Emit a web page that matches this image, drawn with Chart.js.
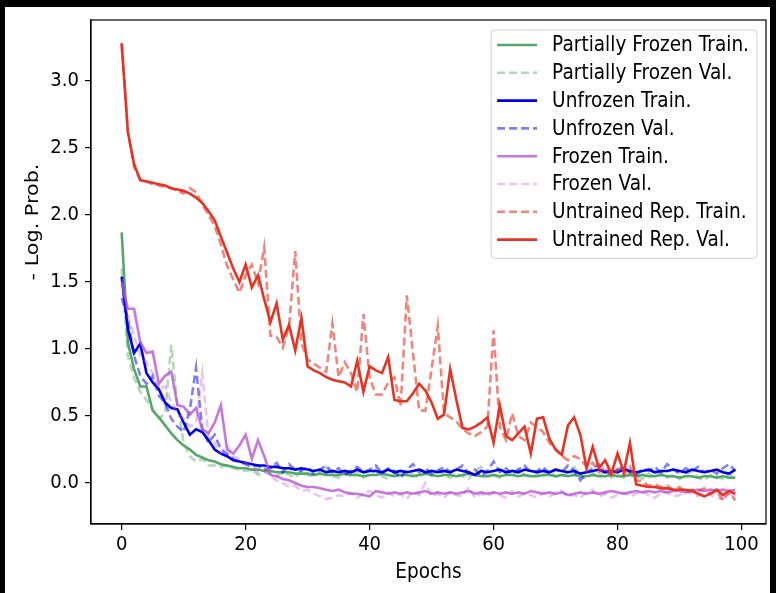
<!DOCTYPE html>
<html>
<head>
<meta charset="utf-8">
<script src="https://cdn.jsdelivr.net/npm/chart.js@4.4.1/dist/chart.umd.min.js"></script>
<style>
  html, body { margin: 0; padding: 0; background: #000; }
  #wrap { position: absolute; left: 5px; top: 7px; width: 765px; height: 586px; background: #fff; }
  canvas { display: block; }
</style>
</head>
<body>
<div id="wrap"><canvas id="c" width="765" height="586"></canvas></div>
<script>
const epochs = Array.from({length: 100}, (_, i) => i);
const xTickValues = [0, 20, 40, 60, 80, 100];
const yTickValues = [0.0, 0.5, 1.0, 1.5, 2.0, 2.5, 3.0];
const seriesLabels = ['Partially Frozen Train.', 'Partially Frozen Val.', 'Unfrozen Train.', 'Unfrozen Val.',
  'Frozen Train.', 'Frozen Val.', 'Untrained Rep. Train.', 'Untrained Rep. Val.'];

const partialTrain = [1.87,1.05,0.85,0.72,0.72,0.54,0.49,0.43,0.37,0.32,
 0.28,0.25,0.21,0.19,0.17,0.16,0.14,0.13,0.12,0.11,
 0.11,0.10,0.10,0.09,0.09,0.08,0.08,0.08,0.07,0.07,
 0.07,0.06,0.07,0.06,0.06,0.06,0.07,0.06,0.06,0.05,
 0.06,0.06,0.07,0.06,0.05,0.06,0.06,0.05,0.06,0.07,
 0.06,0.05,0.06,0.06,0.05,0.06,0.07,0.06,0.05,0.05,
 0.06,0.05,0.06,0.06,0.05,0.06,0.05,0.05,0.06,0.06,
 0.05,0.06,0.05,0.06,0.05,0.05,0.06,0.05,0.05,0.06,
 0.05,0.05,0.06,0.05,0.06,0.05,0.05,0.06,0.05,0.05,
 0.04,0.05,0.05,0.04,0.05,0.05,0.04,0.05,0.04,0.04];

const partialVal = [1.60,0.95,0.78,0.68,0.62,0.55,0.48,0.52,1.03,0.58,
 0.30,0.20,0.16,0.18,0.13,0.13,0.12,0.13,0.11,0.10,
 0.09,0.10,0.06,0.08,0.07,0.05,0.08,0.06,0.04,0.09,
 0.06,0.05,0.08,0.12,0.05,0.04,0.07,0.05,0.09,0.04,
 0.06,0.10,0.05,0.03,0.07,0.05,0.09,0.06,0.04,0.08,
 0.05,0.11,0.06,0.04,0.07,0.05,0.03,0.09,0.12,0.05,
 0.06,0.04,0.08,0.05,0.10,0.06,0.04,0.07,0.05,0.09,
 0.05,0.04,0.08,0.12,0.05,0.03,0.07,0.05,0.09,0.04,
 0.06,0.04,0.08,0.05,0.03,0.07,0.05,0.09,0.04,0.06,
 0.03,0.06,0.09,0.04,0.02,0.06,0.05,0.03,0.07,0.04];

const unfrozenTrain = [1.54,1.15,0.97,1.04,0.82,0.75,0.70,0.60,0.56,0.55,
 0.45,0.36,0.40,0.38,0.32,0.25,0.22,0.20,0.17,0.16,
 0.15,0.14,0.13,0.13,0.12,0.12,0.11,0.11,0.10,0.11,
 0.10,0.09,0.10,0.08,0.09,0.08,0.09,0.08,0.10,0.08,
 0.09,0.09,0.08,0.10,0.08,0.09,0.08,0.09,0.10,0.08,
 0.09,0.08,0.09,0.08,0.10,0.09,0.08,0.06,0.09,0.08,
 0.09,0.10,0.08,0.09,0.08,0.10,0.09,0.08,0.09,0.08,
 0.10,0.09,0.08,0.09,0.07,0.08,0.09,0.10,0.08,0.09,
 0.08,0.10,0.09,0.08,0.09,0.10,0.08,0.09,0.09,0.10,
 0.09,0.08,0.10,0.09,0.08,0.09,0.10,0.08,0.07,0.10];

const unfrozenVal = [1.38,1.22,0.95,0.80,0.74,0.80,0.65,0.60,0.48,0.42,
 0.38,0.55,0.86,0.40,0.30,0.36,0.25,0.22,0.18,0.16,
 0.14,0.12,0.13,0.10,0.11,0.15,0.08,0.14,0.10,0.09,
 0.12,0.07,0.10,0.13,0.08,0.11,0.06,0.09,0.12,0.08,
 0.10,0.13,0.07,0.11,0.09,0.04,0.10,0.14,0.08,0.11,
 0.07,0.09,0.12,0.08,0.10,0.13,0.07,0.10,0.05,0.09,
 0.16,0.08,0.11,0.07,0.10,0.13,0.08,0.09,0.12,0.07,
 0.10,0.08,0.13,0.09,0.02,0.08,0.11,0.14,0.09,0.07,
 0.10,0.12,0.08,0.06,0.10,0.09,0.12,0.08,0.14,0.10,
 0.07,0.11,0.09,0.12,0.08,0.10,0.07,0.11,0.14,0.09];

const frozenTrain = [1.50,1.30,1.30,1.05,0.97,0.98,0.74,0.80,0.83,0.58,
 0.57,0.51,0.56,0.40,0.37,0.45,0.58,0.25,0.22,0.28,
 0.36,0.18,0.32,0.20,0.06,0.05,0.03,0.02,0.00,-0.02,
 -0.03,-0.03,-0.04,-0.05,-0.06,-0.05,-0.07,-0.08,-0.08,-0.09,
 -0.10,-0.06,-0.07,-0.08,-0.07,-0.08,-0.07,-0.08,-0.07,-0.06,
 -0.08,-0.07,-0.08,-0.07,-0.08,-0.07,-0.06,-0.08,-0.07,-0.08,
 -0.07,-0.08,-0.07,-0.08,-0.07,-0.08,-0.06,-0.07,-0.08,-0.07,
 -0.08,-0.07,-0.09,-0.08,-0.07,-0.08,-0.07,-0.08,-0.07,-0.06,
 -0.07,-0.08,-0.07,-0.06,-0.07,-0.06,-0.07,-0.06,-0.07,-0.06,
 -0.06,-0.07,-0.06,-0.05,-0.06,-0.05,-0.06,-0.05,-0.06,-0.05];

const frozenVal = [1.52,1.25,1.10,0.95,0.90,0.82,0.70,0.72,0.60,0.52,
 0.48,0.42,0.45,0.82,0.35,0.30,0.22,0.28,0.20,0.18,
 0.15,0.12,0.08,0.10,0.05,0.02,0.00,-0.03,-0.02,-0.06,
 -0.05,-0.08,-0.10,-0.12,-0.11,-0.09,-0.10,-0.07,-0.11,-0.08,
 -0.06,-0.09,-0.11,-0.07,-0.10,-0.08,-0.12,-0.06,-0.09,0.00,
 -0.10,-0.08,-0.11,-0.07,-0.09,-0.10,-0.03,-0.11,-0.08,-0.10,
 -0.07,-0.09,-0.11,-0.06,-0.10,-0.08,-0.09,-0.11,-0.07,-0.10,
 -0.08,-0.06,-0.10,-0.09,-0.11,-0.07,-0.05,-0.10,-0.08,-0.11,
 -0.09,-0.07,-0.10,-0.08,-0.06,-0.09,-0.11,-0.08,-0.07,-0.10,
 -0.09,-0.06,-0.08,-0.10,-0.07,-0.09,-0.11,-0.12,-0.08,-0.10];

const untrainedTrain = [3.28,2.62,2.36,2.26,2.25,2.23,2.22,2.21,2.20,2.18,
 2.16,2.20,2.17,2.08,2.00,1.92,1.78,1.62,1.52,1.42,
 1.55,1.63,1.49,1.76,1.10,1.09,1.01,1.17,1.73,1.04,
 0.92,0.89,0.86,0.83,1.19,0.79,0.90,0.82,0.68,1.26,
 0.79,0.66,0.66,0.75,0.79,0.57,1.40,0.97,0.54,0.54,
 0.85,1.17,0.52,0.49,0.46,0.40,0.37,0.35,0.38,0.42,
 1.14,0.42,0.32,0.52,0.35,0.32,0.45,0.42,0.38,0.30,
 0.25,0.20,0.17,0.20,0.18,0.12,0.15,0.08,0.12,0.05,
 0.10,0.06,0.12,0.02,0.01,-0.02,-0.01,-0.03,-0.02,-0.05,
 -0.03,-0.07,-0.05,-0.06,-0.04,-0.08,-0.06,-0.13,-0.07,-0.13];

const untrainedVal = [3.28,2.62,2.38,2.26,2.25,2.24,2.23,2.22,2.20,2.19,
 2.18,2.16,2.13,2.09,2.03,1.96,1.84,1.72,1.60,1.50,
 1.63,1.46,1.55,1.37,1.20,1.34,1.07,1.18,0.99,1.23,
 0.87,0.84,0.82,0.79,0.77,0.76,0.75,0.72,0.91,0.68,
 0.87,0.84,0.82,0.94,0.62,0.61,0.61,0.67,0.74,0.69,
 0.60,0.48,0.51,0.85,0.62,0.41,0.40,0.42,0.45,0.49,
 0.30,0.58,0.35,0.32,0.37,0.42,0.22,0.48,0.49,0.33,
 0.25,0.21,0.43,0.49,0.36,0.11,0.27,0.11,0.17,0.07,
 0.22,0.08,0.30,-0.01,-0.02,-0.03,-0.03,-0.04,-0.04,-0.05,
 -0.05,-0.05,-0.06,-0.08,-0.10,-0.08,-0.05,-0.09,-0.06,-0.08];

const seriesValues = [partialTrain, partialVal, unfrozenTrain, unfrozenVal, frozenTrain, frozenVal, untrainedTrain, untrainedVal];
const seriesColors = ['#55a868', 'rgba(85,168,104,0.45)', '#0000e6', 'rgba(0,0,230,0.5)',
  'rgba(186,85,211,0.8)', 'rgba(186,85,211,0.35)', 'rgba(229,52,36,0.6)', '#e53424'];
const seriesDashed = [false, true, false, true, false, true, true, false];

const DASH = [8, 4];
const datasets = seriesValues.map((vals, i) => ({
  label: seriesLabels[i],
  data: epochs.map((e, k) => ({x: e, y: vals[k]})),
  borderColor: seriesColors[i],
  backgroundColor: seriesColors[i],
  borderWidth: 2.6,
  borderDash: seriesDashed[i] ? DASH : [],
  pointRadius: 0,
  tension: 0,
  fill: false,
  order: 20 - i
}));

const FONT = '"DejaVu Sans", sans-serif';
const SY = 1.12; // vertical stretch of text seen in the reference

function stretchedText(ctx, text, x, y, size, align, rotate) {
  ctx.save();
  ctx.translate(x, y);
  if (rotate) ctx.rotate(-Math.PI / 2);
  ctx.scale(1, SY);
  ctx.font = size + 'px ' + FONT;
  ctx.fillStyle = '#000';
  ctx.textAlign = align;
  ctx.textBaseline = 'middle';
  ctx.fillText(text, 0, 0);
  ctx.restore();
}

const framePlugin = {
  id: 'frame',
  afterDraw(chart) {
    const {ctx, chartArea: a} = chart;
    ctx.save();
    ctx.strokeStyle = '#000';
    ctx.lineWidth = 1.2;
    ctx.strokeRect(a.left, a.top, a.right - a.left, a.bottom - a.top);
    ctx.restore();
    const xs = chart.scales.x, ys = chart.scales.y;
    xTickValues.forEach(v => stretchedText(ctx, String(v), xs.getPixelForValue(v), a.bottom + 21, 18, 'center'));
    yTickValues.forEach(v => stretchedText(ctx, v.toFixed(1), a.left - 12, ys.getPixelForValue(v), 18, 'right'));
    stretchedText(ctx, 'Epochs', (a.left + a.right) / 2, 566, 18.5, 'center');
    // vertical label: stretch along its own length (screen vertical)
    ctx.save();
    ctx.translate(28, 215);
    ctx.rotate(-Math.PI / 2);
    ctx.scale(SY, 1);
    ctx.font = '18.5px ' + FONT;
    ctx.fillStyle = '#000';
    ctx.textAlign = 'center';
    ctx.textBaseline = 'middle';
    ctx.fillText('- Log. Prob.', 0, 0);
    ctx.restore();
  }
};

const legendPlugin = {
  id: 'innerLegend',
  afterDraw(chart) {
    const {ctx, chartArea: a} = chart;
    const ds = chart.data.datasets;
    ctx.save();
    ctx.font = '18.5px ' + FONT;
    let maxW = 0;
    ds.forEach(d => { maxW = Math.max(maxW, ctx.measureText(d.label).width); });
    const rowH = 27.8;
    const padX = 6, handleW = 40, gap = 15, padR = 8;
    const w = padX + handleW + gap + maxW + padR;
    const h = rowH * ds.length + 6;
    const right = a.right - 9;
    const left = right - w;
    const top = a.top + 10;
    ctx.beginPath();
    ctx.roundRect(left, top, w, h, 4);
    ctx.fillStyle = 'rgba(255,255,255,0.85)';
    ctx.fill();
    ctx.strokeStyle = '#d0d0d0';
    ctx.lineWidth = 1;
    ctx.stroke();
    ds.forEach((d, i) => {
      const cy = top + 15 + i * rowH;
      ctx.beginPath();
      ctx.setLineDash(d.borderDash || []);
      ctx.strokeStyle = d.borderColor;
      ctx.lineWidth = d.borderWidth;
      ctx.moveTo(left + padX, cy);
      ctx.lineTo(left + padX + handleW, cy);
      ctx.stroke();
      ctx.setLineDash([]);
      stretchedText(ctx, d.label, left + padX + handleW + gap, cy + 1, 18.5, 'left');
    });
    ctx.restore();
  }
};

new Chart(document.getElementById('c'), {
  type: 'line',
  data: { datasets },
  plugins: [framePlugin, legendPlugin],
  options: {
    responsive: false,
    devicePixelRatio: 1,
    animation: false,
    layout: { padding: { top: 13, right: 4, left: 0, bottom: 0 } },
    plugins: { legend: { display: false }, tooltip: { enabled: false }, title: { display: false } },
    scales: {
      x: {
        type: 'linear',
        min: -4.95,
        max: 103.95,
        afterBuildTicks: s => { s.ticks = xTickValues.map(v => ({value: v})); },
        afterFit: s => { s.height = 69; },
        ticks: { display: false },
        grid: { drawOnChartArea: false, drawTicks: true, tickLength: 6, color: '#000', lineWidth: 1.2 },
        border: { display: true, color: '#000', width: 1.2 }
      },
      y: {
        type: 'linear',
        min: -0.306,
        max: 3.455,
        afterBuildTicks: s => { s.ticks = yTickValues.map(v => ({value: v})); },
        afterFit: s => { s.width = 86; },
        ticks: { display: false },
        grid: { drawOnChartArea: false, drawTicks: true, tickLength: 6, color: '#000', lineWidth: 1.2 },
        border: { display: true, color: '#000', width: 1.2 }
      }
    }
  }
});
</script>
</body>
</html>
